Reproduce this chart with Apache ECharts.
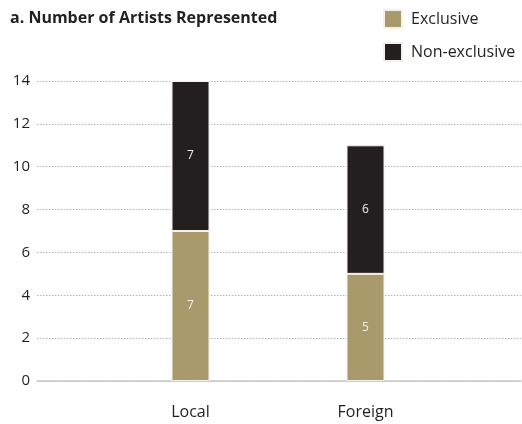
<!DOCTYPE html>
<html><head><meta charset="utf-8">
<script src="https://cdn.jsdelivr.net/npm/echarts@6/dist/echarts.min.js"></script>
<style>html,body{margin:0;padding:0;background:#fff}#c{width:522px;height:424px}</style>
</head><body><div id="c"></div>
<script>
const categories = ['Local', 'Foreign'];
const exclusive = [7, 5];
const nonExclusive = [7, 6];
const yTicks = [0, 2, 4, 6, 8, 10, 12, 14];

const FONT = 'Open Sans';
const chart = echarts.init(document.getElementById('c'), null, {renderer: 'canvas'});
const gTop = 81, gBottom = 43;
chart.setOption({
  animation: false,
  textStyle: {fontFamily: FONT},
  title: {
    text: 'a. Number of Artists Represented', left: 10, top: 10, padding: 0,
    textStyle: {fontFamily: FONT, fontWeight: 'bold', fontSize: 16, color: '#231f20'}
  },
  legend: {
    orient: 'vertical', left: 383, top: 9, padding: 0, itemWidth: 18, itemHeight: 18, itemGap: 13,
    icon: 'rect',
    textStyle: {fontFamily: FONT, fontSize: 16, color: '#231f20', padding: [0, 0, 0, 4]},
    data: ['Exclusive', 'Non-exclusive']
  },
  grid: [
    {left: 37, right: 1, top: gTop, bottom: gBottom},
    {left: 103, right: 69, top: gTop, bottom: gBottom}
  ],
  xAxis: [
    {gridIndex: 0, type: 'category', data: [''], axisLine: {lineStyle: {color: '#c8c8c8', width: 1.5}},
     axisTick: {show: false}, axisLabel: {show: false}},
    {gridIndex: 1, type: 'category', data: categories, axisLine: {show: false}, axisTick: {show: false},
     axisLabel: {margin: 23, fontSize: 16, color: '#231f20', fontFamily: FONT}}
  ],
  yAxis: [
    {gridIndex: 0, type: 'value', min: yTicks[0], max: yTicks[yTicks.length-1], interval: 2,
     axisLine: {show: false}, axisTick: {show: false},
     axisLabel: {margin: 7, fontSize: 15, color: '#231f20', fontFamily: FONT},
     splitLine: {lineStyle: {type: [1.5, 1.5], color: '#b5b5b5', width: 1}}},
    {gridIndex: 1, type: 'value', min: yTicks[0], max: yTicks[yTicks.length-1], interval: 2,
     show: false, splitLine: {show: false}}
  ],
  series: [
    {name: 'Exclusive', type: 'bar', stack: 's', xAxisIndex: 1, yAxisIndex: 1, barWidth: 38,
     data: exclusive, itemStyle: {color: '#a89a6a', borderColor: '#f4f1ea', borderWidth: 1},
     label: {show: true, position: 'inside', color: '#f4f1ea', fontSize: 12, fontFamily: FONT}},
    {name: 'Non-exclusive', type: 'bar', stack: 's', xAxisIndex: 1, yAxisIndex: 1, barWidth: 38,
     data: nonExclusive, itemStyle: {color: '#231f20', borderColor: '#f4f1ea', borderWidth: 1},
     label: {show: true, position: 'inside', color: '#f4f1ea', fontSize: 12, fontFamily: FONT}}
  ]
});
</script></body></html>
